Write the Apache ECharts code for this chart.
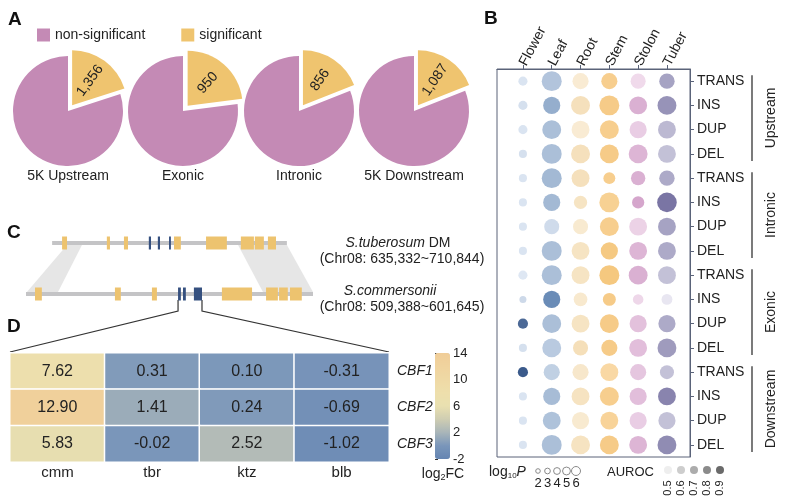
<!DOCTYPE html>
<html><head><meta charset="utf-8">
<script src="https://cdn.jsdelivr.net/npm/echarts@6/dist/echarts.min.js"></script>
<style>html,body{margin:0;padding:0;background:#fff}#c{width:785px;height:496px}</style>
</head><body><div id="c"></div>
<script>
const FONT = '"Liberation Sans", Arial, sans-serif';

// ---------- Panel A data ----------
const pieRegions = ['5K Upstream', 'Exonic', 'Intronic', '5K Downstream'];
const significant = [1356, 950, 856, 1087];
const nonSignificant = [5420, 3180, 3650, 4630];

// ---------- Panel B data ----------
const tissues = ['Flower', 'Leaf', 'Root', 'Stem', 'Stolon', 'Tuber'];
const svTypes = ['TRANS', 'INS', 'DUP', 'DEL'];
const svGroups = ['Upstream', 'Intronic', 'Exonic', 'Downstream'];
// rows: Upstream TRANS..DEL, Intronic ..., Exonic ..., Downstream ...
const log10P_Flower = [2.6,2.6,2.6,2.3, 2.3,2.3,2.3,2.3, 2.6,2.0,2.9,2.3, 2.9,2.3,2.3,2.3];
const log10P_Leaf   = [5.7,4.9,5.4,5.7, 5.7,4.9,4.3,5.7, 5.7,4.9,5.4,5.4, 4.6,4.9,5.1,5.7];
const log10P_Root   = [4.6,5.4,5.1,5.4, 5.1,3.8,4.3,5.1, 5.1,3.9,5.1,4.3, 4.6,5.1,4.9,5.4];
const log10P_Stem   = [4.6,5.7,5.4,5.4, 3.4,5.7,5.4,4.9, 5.7,3.7,5.4,4.6, 5.1,5.4,5.1,5.4];
const log10P_Stolon = [4.3,5.1,4.9,5.4, 4.1,3.5,5.1,5.1, 5.4,3.0,4.9,5.1, 4.6,4.9,4.9,5.1];
const log10P_Tuber  = [4.4,5.4,5.1,5.1, 4.4,5.6,5.1,5.1, 5.1,3.1,4.9,5.4, 4.0,5.1,4.9,5.4];
const auroc_Flower = [0.52,0.53,0.52,0.53, 0.52,0.52,0.52,0.52, 0.51,0.55,0.86,0.53, 0.90,0.52,0.52,0.52];
const auroc_Leaf   = [0.62,0.70,0.64,0.64, 0.66,0.66,0.54,0.64, 0.64,0.82,0.64,0.60, 0.58,0.65,0.63,0.64];
const auroc_Root   = [0.56,0.65,0.56,0.65, 0.65,0.62,0.57,0.62, 0.62,0.58,0.62,0.66, 0.59,0.63,0.57,0.63];
const auroc_Stem   = [0.70,0.72,0.70,0.72, 0.70,0.68,0.70,0.74, 0.75,0.72,0.72,0.72, 0.62,0.70,0.66,0.72];
const auroc_Stolon = [0.55,0.72,0.60,0.70, 0.72,0.76,0.58,0.70, 0.72,0.56,0.65,0.66, 0.63,0.66,0.60,0.70];
const auroc_Tuber  = [0.70,0.74,0.64,0.62, 0.68,0.82,0.70,0.68, 0.62,0.52,0.68,0.72, 0.62,0.78,0.62,0.76];
const log10PTicks = [2, 3, 4, 5, 6];
const aurocTicks = [0.5, 0.6, 0.7, 0.8, 0.9];

// ---------- Panel C data (kb, common axis anchored at S.commersonii start) ----------
const tuberosumTrack = [8.4, 83.9];
const commersoniiTrack = [0, 92.3];
const tuberosumGenes = [[11.6,13.2,'o'],[26.0,27.0,'o'],[31.5,32.8,'o'],[39.5,40.2,'c'],[42.4,43.1,'c'],[46.0,46.6,'c'],[47.6,49.8,'o'],[57.9,64.6,'o'],[69.1,73.3,'o'],[73.6,76.5,'o'],[77.8,80.4,'o']];
const commersoniiGenes = [[2.9,5.1,'o'],[28.6,30.5,'o'],[40.5,42.1,'o'],[48.9,49.8,'c'],[50.5,51.4,'c'],[54.0,56.6,'c'],[63.0,72.7,'o'],[77.2,81.0,'o'],[81.4,84.2,'o'],[84.9,88.7,'o']];
const syntenyBlocks = [[13.2,18.0,0.3,10.3],[68.2,83.9,76.2,92.3]];
const cbfSpan = [48.9, 56.6];

// ---------- Panel D data ----------
const strains = ['cmm', 'tbr', 'ktz', 'blb'];
const cbfGenes = ['CBF1', 'CBF2', 'CBF3'];
const log2FC = [
  [7.62, 0.31, 0.10, -0.31],
  [12.90, 1.41, 0.24, -0.69],
  [5.83, -0.02, 2.52, -1.02]
];
const fcTicks = { min: -2, max: 14, step: 4 };

// ---------- helpers ----------
function hex2rgb(h){ h=h.replace('#',''); return [parseInt(h.substr(0,2),16),parseInt(h.substr(2,2),16),parseInt(h.substr(4,2),16)]; }
function mix(a,b,t){ const A=hex2rgb(a),B=hex2rgb(b); return 'rgb('+A.map((v,i)=>Math.round(v+(B[i]-v)*t)).join(',')+')'; }
const PINK = '#c48ab5', YEL = '#efc46f';
const tissueLight = ['#e2ebf6','#dde6f2','#fbf2e2','#fce8c6','#f6e6f2','#efeef6'];
const tissueDark  = ['#3b5a8b','#4d76a8','#ebc37c','#f1b455','#c383b8','#5d578f'];
const logP = [log10P_Flower,log10P_Leaf,log10P_Root,log10P_Stem,log10P_Stolon,log10P_Tuber];
const auc = [auroc_Flower,auroc_Leaf,auroc_Root,auroc_Stem,auroc_Stolon,auroc_Tuber];
const rows = [];
svGroups.forEach(g => svTypes.forEach(t => rows.push(g + '|' + t)));

const pieCX = [68, 183, 299, 414];
const GB = {left:497, top:69, width:193, height:388};
const GD = {left:10, top:353, width:379, height:109};
const GCB = {left:435, top:353, width:15, height:106};
const GC = {left:26, top:243, width:287, height:51};
const AX = '#5a6379';

const series = [];
// Pies
pieRegions.forEach((r, i) => {
  series.push({
    type: 'pie', center: [pieCX[i], 111], radius: 55, startAngle: 90, clockwise: true,
    selectedMode: 'single', selectedOffset: 7, silent: true, animation: false,
    label: {show: false}, labelLine: {show: false},
    data: [
      {name: 'significant', value: significant[i], selected: true, itemStyle: {color: YEL},
       label: {show: true, position: 'inside', rotate: 'radial', fontSize: 14, fontFamily: FONT, color: '#222',
               formatter: p => p.value.toLocaleString('en-US')}},
      {name: 'non-significant', value: nonSignificant[i], itemStyle: {color: PINK}}
    ]
  });
});
// Bubbles
tissues.forEach((t, ci) => {
  series.push({
    type: 'scatter', xAxisIndex: 0, yAxisIndex: 0, name: t, animation: false, silent: true,
    data: logP[ci].map((v, ri) => [ci + 1, ri, v, auc[ci][ri]]),
    symbolSize: d => 3.5 * d[2],
    itemStyle: {color: p => mix(tissueLight[ci], tissueDark[ci], Math.max(0, Math.min(1, (p.data[3] - 0.5) / 0.4))), opacity: 1}
  });
});
// Heatmap
const heatIndex = series.length;
const heatData = [];
log2FC.forEach((row, ri) => row.forEach((v, ci) => heatData.push([ci, ri, v])));
series.push({
  type: 'heatmap', xAxisIndex: 1, yAxisIndex: 1, data: heatData, silent: true, animation: false,
  itemStyle: {borderColor: '#fff', borderWidth: 1.5},
  label: {show: true, fontSize: 16, fontFamily: FONT, color: '#222', formatter: p => p.data[2].toFixed(2)}
});
// Colorbar axis dummy
series.push({type: 'scatter', xAxisIndex: 2, yAxisIndex: 2, data: [], silent: true});
// Panel C
series.push({
  type: 'custom', xAxisIndex: 3, yAxisIndex: 3, silent: true, animation: false,
  data: syntenyBlocks,
  renderItem: (params, api) => {
    const a = api.coord([api.value(0), 1]), b = api.coord([api.value(1), 1]);
    const c = api.coord([api.value(3), 0]), d = api.coord([api.value(2), 0]);
    return {type: 'polygon', shape: {points: [[a[0], a[1] + 2], [b[0], b[1] + 2], [c[0], c[1] - 2], [d[0], d[1] - 2]]}, style: {fill: '#e6e6e6'}};
  }
});
series.push({
  type: 'custom', xAxisIndex: 3, yAxisIndex: 3, silent: true, animation: false,
  data: [[tuberosumTrack[0], tuberosumTrack[1], 1], [commersoniiTrack[0], commersoniiTrack[1], 0]],
  renderItem: (params, api) => {
    const a = api.coord([api.value(0), api.value(2)]), b = api.coord([api.value(1), api.value(2)]);
    return {type: 'rect', shape: {x: a[0], y: a[1] - 2, width: b[0] - a[0], height: 4}, style: {fill: '#c4c4c6'}};
  }
});
const geneData = tuberosumGenes.map(g => [g[0], g[1], 1, g[2] === 'c' ? 1 : 0])
  .concat(commersoniiGenes.map(g => [g[0], g[1], 0, g[2] === 'c' ? 1 : 0]));
series.push({
  type: 'custom', xAxisIndex: 3, yAxisIndex: 3, silent: true, animation: false,
  data: geneData,
  renderItem: (params, api) => {
    const a = api.coord([api.value(0), api.value(2)]), b = api.coord([api.value(1), api.value(2)]);
    const blue = api.value(3) === 1;
    return {type: 'rect', shape: {x: a[0], y: a[1] - 6.5, width: Math.max(1.6, b[0] - a[0]), height: 13},
            style: {fill: blue ? '#35507f' : '#edc36f'}};
  }
});

const option = {
  backgroundColor: '#fff',
  animation: false,
  textStyle: {fontFamily: FONT},
  legend: {
    data: ['non-significant', 'significant'], left: 37, top: 28, icon: 'rect', itemWidth: 13, itemHeight: 13,
    itemGap: 36, selectedMode: false, textStyle: {fontSize: 14, color: '#222', fontFamily: FONT}, padding: 0
  },
  grid: [
    Object.assign({show: true, borderColor: AX, borderWidth: 1, outerBoundsMode: 'none'}, GB),
    Object.assign({outerBoundsMode: 'none'}, GD),
    Object.assign({outerBoundsMode: 'none'}, GCB),
    Object.assign({outerBoundsMode: 'none'}, GC)
  ],
  xAxis: [
    {type: 'value', gridIndex: 0, position: 'top', min: 0.1, max: 6.8, splitLine: {show: false},
     axisLine: {show: true, lineStyle: {color: AX}},
     axisTick: {show: true, customValues: [1,2,3,4,5,6], length: 4, lineStyle: {color: AX}},
     axisLabel: {customValues: [1,2,3,4,5,6], formatter: v => tissues[Math.round(v) - 1], rotate: -62, margin: 4,
                 fontSize: 14, color: '#222', fontFamily: FONT}},
    {type: 'category', gridIndex: 1, data: strains, position: 'bottom', axisLine: {show: false}, axisTick: {show: false},
     axisLabel: {fontSize: 15, color: '#222', margin: 3, fontFamily: FONT}},
    {type: 'value', gridIndex: 2, show: false, min: 0, max: 1},
    {type: 'value', gridIndex: 3, show: false, min: 0, max: 92.3}
  ],
  yAxis: [
    {type: 'category', gridIndex: 0, data: rows, inverse: true, position: 'right',
     axisLine: {show: true, lineStyle: {color: AX}},
     axisTick: {show: true, alignWithLabel: true, length: 4, lineStyle: {color: AX}},
     axisLabel: {formatter: v => v.split('|')[1], fontSize: 14, color: '#222', margin: 7, fontFamily: FONT},
     splitLine: {show: false}},
    {type: 'category', gridIndex: 1, data: cbfGenes, inverse: true, position: 'right',
     axisLine: {show: false}, axisTick: {show: false},
     axisLabel: {fontSize: 14, fontStyle: 'italic', color: '#222', margin: 8, fontFamily: FONT}},
    {type: 'value', gridIndex: 2, position: 'right', min: fcTicks.min, max: fcTicks.max, interval: fcTicks.step,
     axisLine: {show: false}, axisTick: {show: true, length: 3, lineStyle: {color: '#333'}}, splitLine: {show: false},
     axisLabel: {fontSize: 13, color: '#222', margin: 3, fontFamily: FONT}},
    {type: 'value', gridIndex: 3, show: false, min: 0, max: 1}
  ],
  visualMap: [{
    type: 'continuous', seriesIndex: heatIndex, dimension: 2, min: fcTicks.min, max: fcTicks.max,
    left: GCB.left, top: GCB.top, itemWidth: GCB.width, itemHeight: GCB.height, padding: 0,
    calculable: false, realtime: false, text: null, hoverLink: false,
    inRange: {color: ['#6585b2','#7a96ba','#a9b5b9','#cfcdb2','#e9e0b0','#eedfac','#efd9a5','#f0d39e','#f0cd98']}
  }],
  series: series
};
chart_init();
function chart_init(){
  window.chart = echarts.init(document.getElementById('c'));
  chart.setOption(option);
  const g = [];
  const T = (text, x, y, o) => g.push(Object.assign({type: 'text', silent: true, x: x, y: y,
      style: Object.assign({text: text, fontSize: 14, fontFamily: FONT, fill: '#222', align: 'left', verticalAlign: 'middle'}, (o && o.style) || {})},
      o && o.rotation ? {rotation: o.rotation} : {}));
  // Panel letters
  [['A', 8, 20], ['B', 484, 19], ['C', 7, 233], ['D', 7, 327]].forEach(l =>
    T(l[0], l[1], l[2], {style: {fontSize: 19, fontWeight: 'bold', fill: '#111'}}));
  // Pie region names
  pieRegions.forEach((r, i) => T(r, pieCX[i], 176, {style: {align: 'center'}}));
  // Panel C labels
  const it = {fontSize: 14, fontFamily: FONT, fontStyle: 'italic', fill: '#222'};
  const nm = {fontSize: 14, fontFamily: FONT, fill: '#222'};
  T('{i|S.tuberosum}{n| DM}', 398, 243, {style: {align: 'center', rich: {i: it, n: nm}}});
  T('(Chr08: 635,332~710,844)', 402, 259, {style: {align: 'center'}});
  T('{i|S.commersonii}', 390, 291, {style: {align: 'center', rich: {i: it}}});
  T('(Chr08: 509,388~601,645)', 402, 307, {style: {align: 'center'}});
  // log2FC
  T('{a|log}{s|2}{a|FC}', 443, 474, {style: {align: 'center', rich: {a: nm, s: {fontSize: 9, fontFamily: FONT, fill: '#222', verticalAlign: 'bottom', padding: [8, 0, 0, 0]}}}});
  // Group brackets in B
  svGroups.forEach((grp, gi) => {
    const p1 = chart.convertToPixel({gridIndex: 0}, [6.8, gi * 4]);
    const p2 = chart.convertToPixel({gridIndex: 0}, [6.8, gi * 4 + 3]);
    const y1 = p1[1] - 6, y2 = p2[1] + 7;
    g.push({type: 'line', silent: true, shape: {x1: GB.left + GB.width + 62, y1: y1, x2: GB.left + GB.width + 62, y2: y2},
            style: {stroke: '#333', lineWidth: 1.3}});
    T(grp, GB.left + GB.width + 81, (y1 + y2) / 2, {rotation: Math.PI / 2, style: {align: 'center'}});
  });
  // Bubble legends
  T('{a|log}{s|10}{p|P}', 489, 472, {style: {rich: {a: nm, s: {fontSize: 8, fontFamily: FONT, fill: '#222', verticalAlign: 'bottom', padding: [8, 0, 0, 0]}, p: it}}});
  log10PTicks.forEach((v, i) => {
    const x = 538 + i * 9.5;
    g.push({type: 'circle', silent: true, shape: {cx: x, cy: 471, r: 1.2 + v * 0.55}, style: {fill: 'none', stroke: '#8a8a8a', lineWidth: 1}});
    T(String(v), x, 483, {style: {align: 'center', fontSize: 13}});
  });
  T('AUROC', 607, 472, {style: {fontSize: 13}});
  aurocTicks.forEach((v, i) => {
    const x = 668 + i * 13;
    g.push({type: 'circle', silent: true, shape: {cx: x, cy: 470, r: 4}, style: {fill: mix('#eeeeee', '#6a6a6a', (v - 0.5) / 0.4)}});
    T(v.toFixed(1), x, 488, {rotation: Math.PI / 2, style: {align: 'center', fontSize: 11}});
  });
  // Connector lines C -> D
  const l = chart.convertToPixel({gridIndex: 3}, [cbfSpan[0], 0]);
  const r = chart.convertToPixel({gridIndex: 3}, [cbfSpan[1], 0]);
  g.push({type: 'polyline', silent: true, shape: {points: [[l[0], l[1] + 6], [l[0], l[1] + 17], [GD.left, GD.top - 1]]}, style: {stroke: '#333', lineWidth: 1.2, fill: null}});
  g.push({type: 'polyline', silent: true, shape: {points: [[r[0], r[1] + 6], [r[0], r[1] + 17], [GD.left + GD.width, GD.top - 1]]}, style: {stroke: '#333', lineWidth: 1.2, fill: null}});
  chart.setOption({graphic: g});
}
</script>
</body></html>
